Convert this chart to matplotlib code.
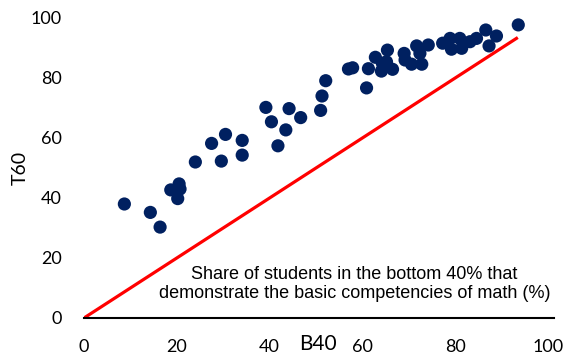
import matplotlib
matplotlib.use("Agg")
import matplotlib.pyplot as plt

# share of students in bottom 40% (B40) vs top 60% (T60) with basic math competencies
b40 = [8.7, 14.3, 16.4, 18.7, 20.5, 20.7, 20.2, 24.0, 27.5, 30.5, 29.6, 34.1, 34.1,
       39.2, 40.4, 44.2, 43.5, 41.8, 46.7, 51.0, 51.3, 52.1,
       57.0, 57.9, 60.9, 61.3, 62.8, 64.1, 65.4, 65.2, 66.5, 64.3,
       69.0, 69.2, 70.6, 71.7, 72.8, 72.4, 74.2, 77.3, 78.9, 79.2,
       81.0, 81.4, 83.2, 84.6, 86.6, 87.3, 88.9, 93.6]
t60 = [38.0, 35.2, 30.3, 42.7, 44.7, 43.0, 39.8, 52.0, 58.2, 61.2, 52.3, 59.2, 54.3,
       70.2, 65.4, 69.8, 62.7, 57.4, 66.8, 69.2, 74.0, 79.1,
       83.0, 83.4, 76.7, 83.1, 86.9, 82.3, 89.3, 85.4, 82.9, 84.9,
       88.2, 86.0, 84.6, 90.7, 84.6, 88.2, 91.0, 91.6, 93.2, 89.6,
       93.2, 89.9, 92.1, 93.2, 96.0, 90.7, 94.0, 97.7]

# equality line
eq_x = [0, 93.5]
eq_y = [0, 93.5]

xticks = [0, 20, 40, 60, 80, 100]
yticks = [0, 20, 40, 60, 80, 100]

fig = plt.figure(figsize=(5.73, 3.58), dpi=100)
ax = fig.add_axes([84/573, 40/358, 470/573, 300/358])

ax.plot(eq_x, eq_y, color="#ff0000", lw=2.3, solid_capstyle="butt", zorder=2)
ax.scatter(b40, t60, s=90, color="#002060", edgecolors="none", zorder=3, clip_on=False)

ax.set_xlim(0, 101.3)
ax.set_ylim(0, 100)
ax.set_xticks(xticks)
ax.set_yticks(yticks)
ax.tick_params(axis="both", length=0, labelsize=13)
ax.tick_params(axis="x", pad=15)
ax.tick_params(axis="y", pad=16)
for lab in ax.get_xticklabels() + ax.get_yticklabels():
    lab.set_family("Lato")

for s in ["top", "right", "left"]:
    ax.spines[s].set_visible(False)
ax.spines["bottom"].set_linewidth(1.5)
ax.spines["bottom"].set_color("black")

ax.set_ylabel("T60", fontsize=14, family="Lato")
ax.yaxis.set_label_coords(-0.118, 0.5)
ax.set_xlabel("B40", fontsize=15, family="Lato")
ax.xaxis.set_label_coords((318-84)/470, -0.055)

ax.text(58.3, 11.3, "Share of students in the bottom 40% that\ndemonstrate the basic competencies of math (%)",
        ha="center", va="center", fontsize=13, family="Liberation Sans", linespacing=1.2)

fig.savefig("out.png", dpi=100)
